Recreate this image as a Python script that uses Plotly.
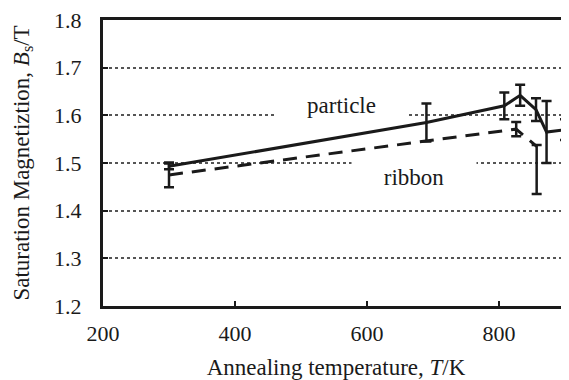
import plotly.graph_objects as go

# ---- data ----
particle_T = [300, 690, 808, 832, 856, 872, 900, 925]
particle_B = [1.493, 1.585, 1.620, 1.642, 1.612, 1.565, 1.570, 1.570]
particle_err = [0.006, 0.040, 0.028, 0.022, 0.024, 0.065, 0.022, 0.0]

ribbon_T = [300, 826, 857]
ribbon_B = [1.475, 1.571, 1.535]
ribbon_err_plus = [0.026, 0.015, 0.003]
ribbon_err_minus = [0.026, 0.015, 0.100]

y_ticks = [1.2, 1.3, 1.4, 1.5, 1.6, 1.7, 1.8]
y_tick_text = ["1.2", "1.3", "1.4", "1.5", "1.6", "1.7", "1.8"]
x_ticks = [200, 400, 600, 800]
x_tick_text = ["200", "400", "600", "800"]

label_text = ["particle", "ribbon"]
label_T = [562, 671]
label_B = [1.622, 1.471]

FONT = "Liberation Serif"
INK = "#1a1a1a"
FS = 22

fig = go.Figure()

fig.add_trace(go.Scatter(
    x=ribbon_T, y=ribbon_B, mode="lines", name="ribbon",
    line=dict(color=INK, width=3, dash="14px,9px"),
    error_y=dict(type="data", symmetric=False, array=ribbon_err_plus,
                 arrayminus=ribbon_err_minus, color=INK, thickness=2.5, width=5),
))
fig.add_trace(go.Scatter(
    x=particle_T, y=particle_B, mode="lines", name="particle",
    line=dict(color=INK, width=3),
    error_y=dict(type="data", array=particle_err, color=INK, thickness=2.5, width=5),
))

for txt, tx, by, w, h in zip(label_text, label_T, label_B, [129, 122], [34, 40]):
    fig.add_annotation(x=tx, y=by, xref="x", yref="y",
                       text=txt, showarrow=False, width=w, height=h,
                       bgcolor="white", font=dict(family=FONT, size=23, color=INK))

fig.update_layout(
    width=561, height=372,
    margin=dict(l=95, r=0, t=12, b=74),
    paper_bgcolor="white", plot_bgcolor="white",
    showlegend=False,
    font=dict(family=FONT, color=INK),
    xaxis=dict(
        range=[200, 906], tickvals=x_ticks, ticktext=x_tick_text,
        automargin=False,
        showgrid=False, zeroline=False,
        showline=True, linewidth=3, linecolor=INK, mirror=True,
        ticks="inside", ticklen=5, tickwidth=2, tickcolor=INK,
        tickfont=dict(family=FONT, size=FS, color=INK),
        ticklabelstandoff=6, ticklabeloverflow="allow",
        title=dict(text="Annealing temperature, <i>T</i>/K",
                   font=dict(family=FONT, size=23, color=INK), standoff=17),
    ),
    yaxis=dict(
        range=[1.2, 1.8], tickvals=y_ticks, ticktext=y_tick_text,
        automargin=False,
        showgrid=True, gridcolor="#555", griddash="dot", gridwidth=1.5,
        zeroline=False,
        showline=True, linewidth=3, linecolor=INK, mirror=False,
        ticks="inside", ticklen=5, tickwidth=2, tickcolor=INK,
        tickfont=dict(family=FONT, size=FS, color=INK),
        ticklabelstandoff=14, ticklabeloverflow="allow",
        title=dict(text="Saturation Magnetiztion, <i>B</i><sub>s</sub>/T",
                   font=dict(family=FONT, size=23, color=INK), standoff=19),
    ),
)

fig.write_html("out.html")
